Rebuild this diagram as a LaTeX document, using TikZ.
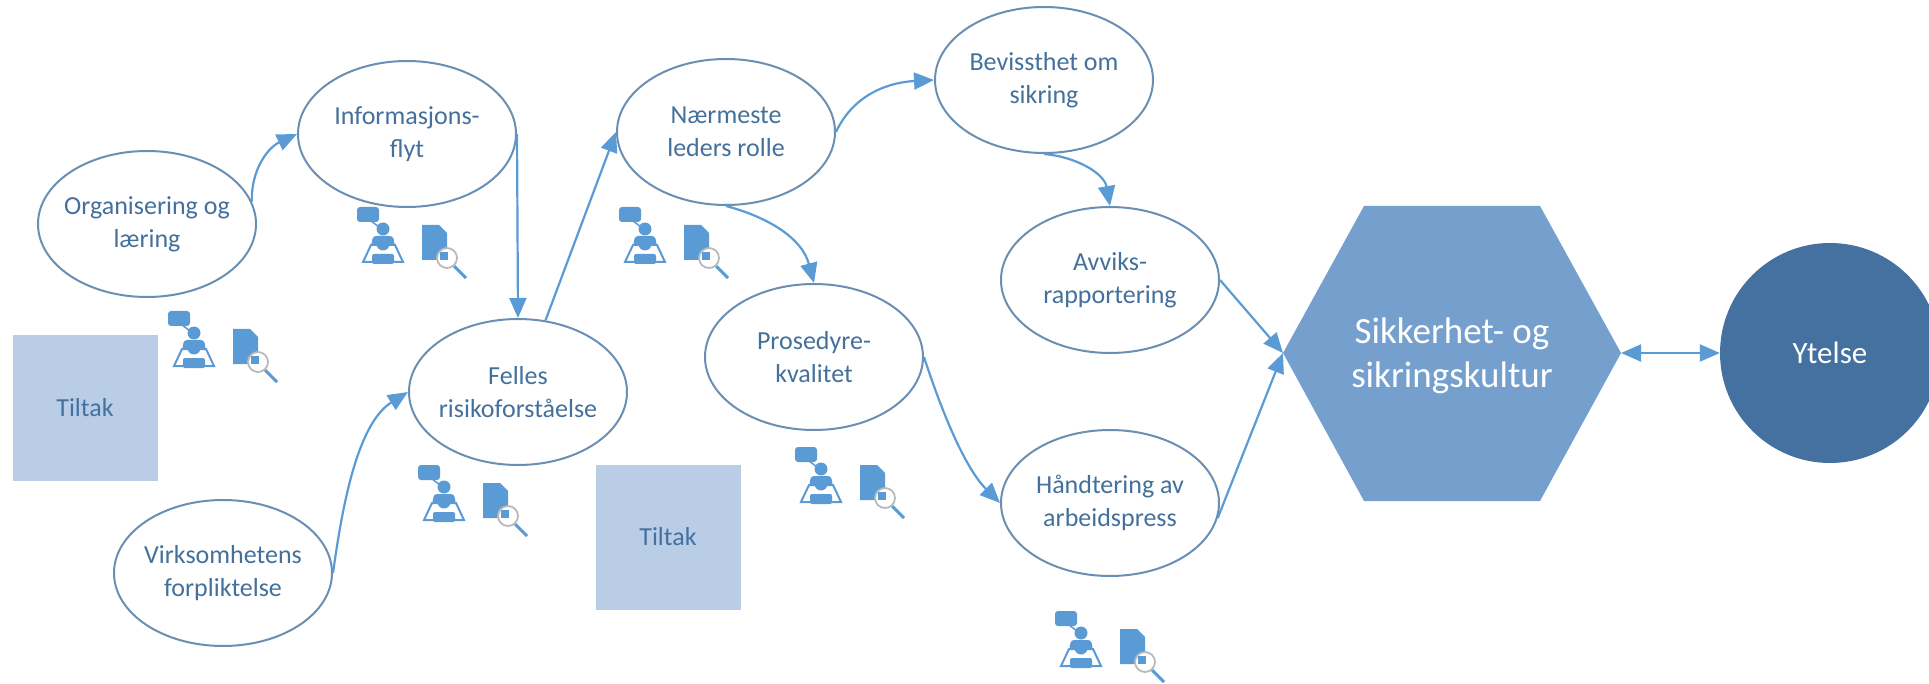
\documentclass[tikz,border=0pt]{standalone}
\usepackage{fontspec}
\setmainfont{Carlito}
\usetikzlibrary{shapes.geometric,arrows.meta}
\definecolor{kantblaa}{HTML}{6A8FB3}
\definecolor{pilblaa}{HTML}{5B9BD5}
\definecolor{tekstblaa}{HTML}{44709C}
\definecolor{hexblaa}{HTML}{759FCD}
\definecolor{moerkblaa}{HTML}{44719F}
\definecolor{tiltakblaa}{HTML}{B9CDE7}
\tikzset{
    faktor/.style={ellipse, draw=kantblaa, line width=2pt, fill=white, text=tekstblaa,
        minimum width=218pt, minimum height=146pt, inner sep=-14pt, align=center,
        font=\fontsize{26}{33}\selectfont},
    tiltak/.style={rectangle, fill=tiltakblaa, text=moerkblaa, minimum size=145pt,
        inner sep=0pt, font=\fontsize{26}{32}\selectfont},
    pil/.style={-{Triangle[length=20pt,width=17pt]}, draw=pilblaa, line width=2.2pt},
    ikoner/.pic={
        % person in front of a second person
        \fill[pilblaa, rounded corners=3pt] (0,0) rectangle (22,15);
        \draw[pilblaa, line width=1.5pt] (14,14) -- (22,20);
        \fill[pilblaa] (26,22) circle (6.5);
        \fill[pilblaa, rounded corners=3pt] (14,39) -- (16,29) -- (36,29) -- (38,39) -- cycle;
        \draw[pilblaa, line width=2pt, fill=white] (6,55) -- (14,38) -- (38,38) -- (46,55) -- cycle;
        \fill[pilblaa] (26,37) circle (6.5);
        \fill[pilblaa, rounded corners=2pt] (15,57) rectangle (37,47);
        % document with magnifier
        \fill[pilblaa] (65,18) -- (82,18) -- (90,26) -- (90,53) -- (65,53) -- cycle;
        \draw[pilblaa, line width=3pt] (97,59) -- (109,71);
        \draw[gray!55, line width=1.8pt, fill=white] (90,51) circle (10);
        \fill[pilblaa] (83,45) rectangle (91,53);
    }
}
\begin{document}
\begin{tikzpicture}[x=1pt, y=-1pt]
    \clip (0,0) rectangle (1929,684);

    %----------------------
    % Factors on the left
    %----------------------
    \node[faktor] (org) at (147,224) {Organisering og\\læring};
    \node[faktor] (inf) at (407,134) {Informasjons-\\flyt};
    \node[faktor] (fel) at (518,392) {Felles\\risikoforståelse};
    \node[faktor] (vir) at (223,573) {Virksomhetens\\forpliktelse};

    %----------------------
    % Factors in the middle
    %----------------------
    \node[faktor] (nae) at (726,132) {Nærmeste\\leders rolle};
    \node[faktor] (bev) at (1044,80) {Bevissthet om\\sikring};
    \node[faktor] (pro) at (814,357) {Prosedyre-\\kvalitet};
    \node[faktor] (avv) at (1110,280) {Avviks-\\rapportering};
    \node[faktor] (han) at (1110,503) {Håndtering av\\arbeidspress};

    % Measures
    \node[tiltak] (tiltak1) at (85,408) {Tiltak};
    \node[tiltak] (tiltak2) at (668,537) {Tiltak};

    %----------------------
    % Culture and performance
    %----------------------
    \coordinate (hexvest) at (1283,353);
    \coordinate (hexoest) at (1621,353);
    \fill[hexblaa] (hexvest) -- (1364,206) -- (1540,206) -- (hexoest) -- (1540,501) -- (1364,501) -- cycle;
    \node[inner sep=0pt, align=center, text=white,
        font=\fontsize{37}{44}\selectfont] (kultur) at (1452,356) {Sikkerhet- og\\sikringskultur};
    \node[circle, fill=moerkblaa, text=white, minimum size=220pt, inner sep=0pt,
        font=\fontsize{31}{32}\selectfont] (ytelse) at (1830,353) {Ytelse};

    % Icon pairs below the factors
    \pic at (168,311) {ikoner};
    \pic at (357,207) {ikoner};
    \pic at (619,207) {ikoner};
    \pic at (418,465) {ikoner};
    \pic at (795,447) {ikoner};
    \pic at (1055,611) {ikoner};

    %----------------------
    % Connectors
    %----------------------
    \draw[pil] (org.12) to[out=92,in=205] (inf.west);
    \draw[pil] (inf.east) -- (fel.north);
    \draw[pil] (fel.69) -- (nae.west);
    \draw[pil] (vir.east) to[out=82,in=212,looseness=0.8] (fel.west);
    \draw[pil] (nae.east) to[out=65,in=183] (bev.west);
    \draw[pil] (bev.south) to[out=-5,in=100] (avv.north);
    \draw[pil] (nae.south) to[out=-15,in=105] (pro.north);
    \draw[pil] (pro.east) to[out=-72,in=135,looseness=0.8] (han.west);
    \draw[pil] (avv.east) -- (hexvest);
    \draw[pil] (han.-8) -- (hexvest);
    \draw[pil, {Triangle[length=20pt,width=17pt]}-{Triangle[length=20pt,width=17pt]}] (hexoest) -- (ytelse.west);
\end{tikzpicture}
\end{document}
